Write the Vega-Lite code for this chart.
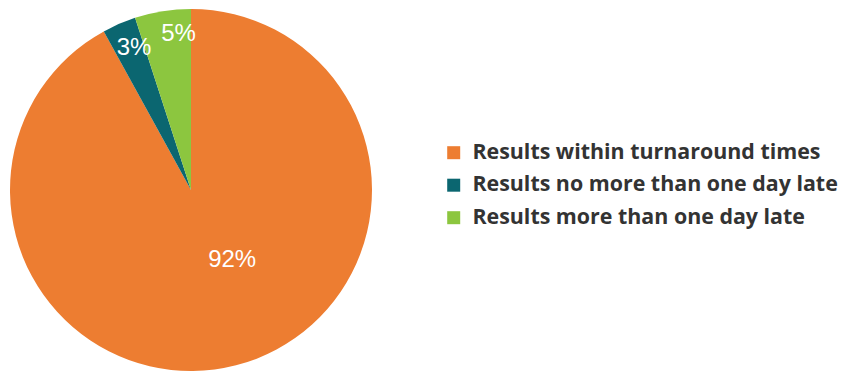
{
  "$schema": "https://vega.github.io/schema/vega-lite/v6.json",
  "width": 382,
  "height": 366,
  "padding": {"top": 7, "left": 0, "right": 0, "bottom": 0},
  "background": "white",
  "config": {"view": {"stroke": null}},
  "data": {
    "values": [
      {"category": "Results within turnaround times", "value": 92, "label": "92%", "rank": 1},
      {"category": "Results no more than one day late", "value": 3, "label": "3%", "rank": 2},
      {"category": "Results more than one day late", "value": 5, "label": "5%", "rank": 3}
    ]
  },
  "encoding": {
    "theta": {"field": "value", "type": "quantitative", "stack": true},
    "order": {"field": "rank", "type": "quantitative"}
  },
  "layer": [
    {
      "mark": {"type": "arc", "outerRadius": 181},
      "encoding": {
        "color": {
          "field": "category",
          "type": "nominal",
          "sort": null,
          "scale": {
            "domain": ["Results within turnaround times", "Results no more than one day late", "Results more than one day late"],
            "range": ["#ED7D31", "#0B6670", "#8CC63F"]
          },
          "legend": {
            "title": null,
            "orient": "none",
            "legendX": 443,
            "legendY": 135,
            "symbolType": "square",
            "symbolSize": 169,
            "symbolStrokeWidth": 0,
            "labelFont": "Open Sans",
            "labelFontSize": 21.4,
            "labelFontWeight": "bold",
            "labelColor": "#333333",
            "labelOffset": 8,
            "rowPadding": 9.5,
            "labelLimit": 500
          }
        }
      }
    },
    {
      "mark": {
        "type": "text",
        "radius": {"expr": "datum.value < 50 ? 156 : 81"},
        "dx": {"expr": "datum.value < 4 ? 5 : datum.value < 50 ? 12 : 21"},
        "dy": {"expr": "datum.value < 4 ? 1 : datum.value < 50 ? -2 : -8"},
        "font": "Liberation Sans", "fontSize": 24, "color": "white", "baseline": "middle", "align": "center"
      },
      "encoding": {"text": {"field": "label"}}
    }
  ]
}
